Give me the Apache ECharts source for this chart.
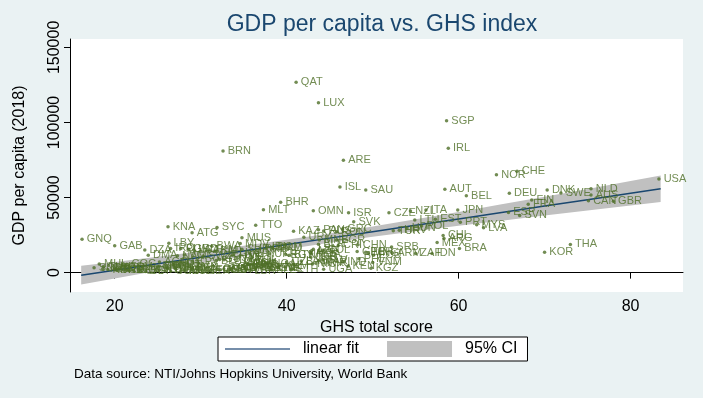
<!DOCTYPE html>
<html>
<head>
<meta charset="utf-8">
<script src="https://cdn.jsdelivr.net/npm/echarts@6/dist/echarts.min.js"></script>
<style>
html, body { margin: 0; padding: 0; background: #eaf2f3; }
#chart { width: 703px; height: 398px; }
</style>
</head>
<body>
<div id="chart"></div>
<script>
// country codes, GHS total score, GDP per capita 2018
var countries = ['QAT','LUX','SGP','IRL','BRN','ARE','CHE','NOR','USA','ISL','NLD','AUT','DNK','SAU','SWE','DEU','AUS','BEL','FIN','CAN',
	'GBR','BHR','FRA','MLT','JPN','ITA','OMN','NZL','ESP','CZE','ISR','SVN','EST','LTU','SVK','PRT','MYS','TTO','POL','KNA',
	'SYC','LVA','HUN','PAN','GRC','HRV','RUS','ROU','KAZ','TUR','ATG','CHL','URY','MUS','ARG','GNQ','MNE','BGR','MEX','LBY',
	'BLR','THA','CHN','CRI','GAB','SRB','DOM','BWA','MDV','IRN','IRQ','BRA','MKD','LBN','GRD','SUR','TKM','DZA','LCA','COL',
	'AZE','BIH','GEO','KOR','PER','ALB','LKA','ZAF','IDN','MNG','ARM','PRY','MDA','UKR','EGY','VCT','DMA','TUN','ECU','BTN',
	'NAM','SWZ','JOR','FJI','JAM','PHL','GUY','SLV','GTM','BOL','BLZ','MAR','LAO','VNM','IND','UZB','CPV','AGO','WSM','TON',
	'MMR','NGA','NIC','COG','PAK','GHA','HND','CIV','MRT','BGD','KHM','KEN','SDN','PNG','ZMB','KGZ','CMR','DJI','FSM','TLS',
	'TJK','NPL','SEN','BEN','SOM','STP','VUT','ZWE','COM','LSO','TZA','YEM','GIN','SLB','MLI','GMB','RWA','ETH','UGA','KIR',
	'BFA','AFG','GNB','HTI','TCD','SLE','ERI','MDG','TGO','SSD','LBR','MOZ','NER','MWI','COD','CAF','BDI','MHL','TUV','PLW','BRB'];
var ghsScore = [41.1,43.7,58.6,58.8,32.6,46.6,66.8,64.4,83.3,46.2,75.4,58.4,70.3,49.2,71.9,65.9,75.4,60.9,68.5,75.1,
	78.0,39.3,68.1,37.3,59.9,56.2,43.1,54.4,65.8,51.9,47.2,67.1,57.3,54.9,47.8,60.2,62.1,36.4,55.7,26.2,
	31.9,62.9,54.0,43.7,46.5,53.1,44.3,45.8,40.8,52.4,29.0,58.2,42.0,34.8,58.3,16.2,43.8,45.8,57.5,26.3,
	43.7,73.0,48.3,46.0,20.0,52.2,38.3,31.3,34.6,37.7,26.5,60.1,38.4,43.1,28.6,34.8,31.0,23.5,29.2,44.2,
	42.9,31.7,48.2,70.0,49.2,42.8,33.9,55.0,56.9,49.5,52.3,35.7,42.9,38.0,39.9,28.1,23.9,33.7,50.1,40.3,
	27.3,30.3,42.8,36.0,34.2,48.4,32.2,44.2,32.7,35.8,31.8,43.7,41.7,50.0,46.5,40.0,29.0,25.2,35.2,27.0,
	43.4,37.8,43.0,21.4,35.5,35.5,35.8,35.5,26.8,35.0,39.2,47.1,25.2,25.0,28.7,49.8,33.8,26.2,21.2,27.0,
	39.0,35.1,37.9,28.9,17.6,20.5,26.1,38.2,20.0,33.5,36.4,18.6,32.7,24.9,29.0,32.0,35.3,40.6,44.3,19.2,
	33.6,32.3,20.0,25.2,20.3,38.2,22.1,28.3,31.2,21.6,35.7,28.1,30.2,27.7,26.5,23.0,23.6,18.2,18.7,27.7,36.9];
var gdpPc = [126800,113200,101200,82800,81000,74800,67500,65200,62300,57000,55900,55500,55000,55000,53000,52800,51700,51200,48300,47900,
	47500,46800,45500,41900,41700,41700,41200,41000,40100,39900,39900,38100,35500,35000,33900,33500,31900,31500,31000,30500,
	30100,29900,29700,28500,29100,28300,27800,27300,27500,27900,26500,24800,23500,23200,22800,22300,21700,21700,20000,19500,
	18900,18800,18500,18100,17900,17000,16900,17500,19400,17000,16100,16100,16100,15500,15500,15500,15300,15000,15000,14900,
	14500,14200,14000,13500,13500,13300,13100,12800,12800,12800,13000,12700,12600,12600,12000,11800,11500,11500,11500,11500,
	11200,11000,10300,10300,9700,9200,8800,8500,8500,8400,8000,7800,7800,6800,7000,7000,7200,7000,6700,6300,
	6200,5900,5800,5600,5500,5500,5400,5200,5100,4700,4400,4300,4300,4300,3900,3000,3600,3600,3500,3500,
	3400,3400,3400,3200,3200,3200,3100,3000,3000,2900,2900,2500,2400,2300,2200,2200,2200,2200,2200,2100,
	2100,2000,1900,1800,1700,1700,1700,1600,1600,1500,1400,1300,1200,1100,1100,900,800,5700,4000,16000,16000];

// linear fit and 95% CI
var fitX   = [16.1, 20, 25, 30, 35, 40, 45, 50, 55, 60, 65, 70, 75, 80, 83.5];
var fitY   = [-1700, 1630, 5900, 10170, 14440, 18710, 22980, 27250, 31520, 35790, 40060, 44330, 48600, 52870, 55860];
var ciLow  = [-7900, -3900, 1170, 6150, 10970, 15560, 19850, 23830, 27570, 31150, 34630, 38050, 41420, 44780, 47110];
var ciHigh = [4500, 7160, 10630, 14190, 17910, 21860, 26110, 30670, 35470, 40430, 45490, 50610, 55780, 60960, 64610];

var xTicks = [20, 40, 60, 80];
var yTicks = [0, 50000, 100000, 150000];

var chart = echarts.init(document.getElementById('chart'));

var pointData = countries.map(function(c, i) {
	return { name: c, value: [ghsScore[i], gdpPc[i]] };
});
var fitData = fitX.map(function(x, i) {
	return [x, fitY[i]];
});

var green = '#4f6f28';
var font = 'Liberation Sans, Arial, sans-serif';
// thin line for the legend, tiny corner dots keep the 65x16 box
var lineIcon = 'path://M0,0L0.01,0L0,0.01Z M0,7.3L65,7.3L65,8.7L0,8.7Z M65,16L64.99,16L65,15.99Z';

var option = {
	backgroundColor: '#eaf2f3',
	animation: false,
	textStyle: { fontFamily: font },
	title: {
		text: 'GDP per capita vs. GHS index',
		left: 377,
		top: 8,
		textAlign: 'center',
		textStyle: { fontSize: 23, fontWeight: 'normal', color: '#1a476f', fontFamily: font }
	},
	grid: {
		left: 70, right: 20, top: 39, bottom: 106,
		show: true, backgroundColor: '#fff', borderWidth: 0
	},
	legend: {
		left: 218, top: 337,
		padding: [4, 10, 4, 7],
		borderColor: '#000', borderWidth: 1, borderRadius: 0,
		backgroundColor: '#fff',
		itemWidth: 65, itemHeight: 16, itemGap: 28,
		selectedMode: false,
		textStyle: { fontSize: 16, color: '#000', padding: [0, 0, 0, 8] },
		data: [{ name: 'linear fit', icon: lineIcon, itemStyle: { color: '#4a6a8e' } }, { name: '95% CI', icon: 'rect' }]
	},
	xAxis: {
		type: 'value', min: 14.8, max: 86.1,
		name: 'GHS total score', nameLocation: 'middle', nameGap: 21,
		nameTextStyle: { fontSize: 16, color: '#000' },
		axisLine: { show: true, lineStyle: { color: '#000', width: 1 } },
		axisTick: { show: true, length: 6, customValues: xTicks, lineStyle: { color: '#000' } },
		axisLabel: { customValues: xTicks, fontSize: 16, color: '#000', margin: 7 },
		splitLine: { show: false }
	},
	yAxis: {
		type: 'value', min: -12900, max: 155600,
		name: 'GDP per capita (2018)', nameLocation: 'middle', nameGap: 42, nameRotate: 90,
		nameTextStyle: { fontSize: 16, color: '#000' },
		axisLine: { show: true, lineStyle: { color: '#000', width: 1 } },
		axisTick: { show: true, length: 6, customValues: yTicks, lineStyle: { color: '#000' } },
		axisLabel: {
			customValues: yTicks, fontSize: 16, color: '#000', rotate: 90, margin: 7,
			formatter: function(v) { return String(v); }
		},
		splitLine: { show: false }
	},
	series: [
		{
			name: '95% CI',
			type: 'custom',
			data: [0],
			z: 1,
			silent: true,
			itemStyle: { color: '#c0c0c0' },
			renderItem: function(params, api) {
				var pts = [];
				for (var i = 0; i < fitX.length; i++) pts.push(api.coord([fitX[i], ciHigh[i]]));
				for (var j = fitX.length - 1; j >= 0; j--) pts.push(api.coord([fitX[j], ciLow[j]]));
				return { type: 'polygon', shape: { points: pts }, style: { fill: '#c0c0c0' } };
			}
		},
		{
			name: 'linear fit',
			type: 'line',
			data: fitData,
			showSymbol: false,
			symbol: 'none',
			z: 2,
			silent: true,
			itemStyle: { color: '#1a476f' },
			lineStyle: { color: '#1a476f', width: 1.5 }
		},
		{
			name: 'points',
			type: 'scatter',
			data: pointData,
			z: 3,
			silent: true,
			symbolSize: 3.5,
			itemStyle: { color: green },
			label: {
				show: true, position: 'right', distance: 3,
				formatter: '{b}', color: green, fontSize: 11
			}
		}
	],
	graphic: [{
		type: 'text', left: 74, top: 367,
		style: { text: 'Data source: NTI/Johns Hopkins University, World Bank', fontSize: 13.5, fill: '#000', fontFamily: font }
	}]
};

chart.setOption(option);
</script>
</body>
</html>
